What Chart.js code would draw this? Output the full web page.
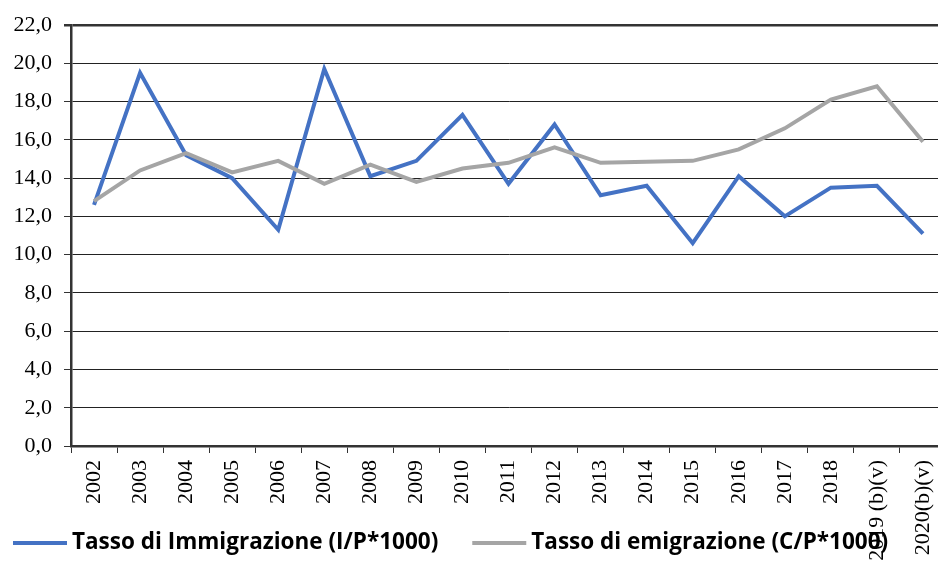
<!DOCTYPE html>
<html>
<head>
<meta charset="utf-8">
<script src="https://cdn.jsdelivr.net/npm/chart.js@4"></script>
<style>
html,body{margin:0;padding:0;background:#fff;overflow:hidden;}
#wrap{width:946px;height:562px;}
</style>
</head>
<body>
<div id="wrap"><canvas id="c" width="946" height="562"></canvas></div>
<script>
const years = ['2002','2003','2004','2005','2006','2007','2008','2009','2010','2011','2012','2013','2014','2015','2016','2017','2018','2019 (b)(v)','2020(b)(v)'];
const immigrazione = [12.6, 19.5, 15.2, 14.0, 11.3, 19.7, 14.1, 14.9, 17.3, 13.7, 16.8, 13.1, 13.6, 10.6, 14.1, 12.0, 13.5, 13.6, 11.1];
const emigrazione = [12.8, 14.4, 15.3, 14.3, 14.9, 13.7, 14.7, 13.8, 14.5, 14.8, 15.6, 14.8, 14.85, 14.9, 15.5, 16.6, 18.1, 18.8, 15.9];
const seriesNames = ['Tasso di Immigrazione (I/P*1000)', 'Tasso di emigrazione (C/P*1000)'];
const yTicks = { min: 0, max: 22, step: 2 };

const legendPlugin = {
  id: 'customLegend',
  afterDraw(chart) {
    const ctx = chart.ctx;
    ctx.save();
    ctx.font = 'bold 22.5px "Open Sans"';
    ctx.textBaseline = 'middle';
    ctx.fillStyle = '#000';
    let x = 13;
    const y = 543;
    chart.data.datasets.forEach((ds, i) => {
      ctx.strokeStyle = ds.borderColor;
      ctx.lineWidth = 4;
      ctx.beginPath();
      ctx.moveTo(x, y);
      ctx.lineTo(x + 54, y);
      ctx.stroke();
      x += 59;
      ctx.fillText(ds.label, x, y);
      x += ctx.measureText(ds.label).width + 34;
    });
    ctx.restore();
  }
};

new Chart(document.getElementById('c'), {
  type: 'line',
  data: {
    labels: years,
    datasets: [
      { label: seriesNames[0], data: immigrazione, borderColor: '#4472C4', backgroundColor: '#4472C4', borderWidth: 4, pointRadius: 0, tension: 0, order: 1 },
      { label: seriesNames[1], data: emigrazione, borderColor: '#A5A5A5', backgroundColor: '#A5A5A5', borderWidth: 4, pointRadius: 0, tension: 0, order: 0 }
    ]
  },
  options: {
    responsive: false,
    devicePixelRatio: 1,
    animation: false,
    layout: { padding: { top: 25, left: 0, right: 0, bottom: 0 } },
    plugins: { legend: { display: false }, tooltip: { enabled: false } },
    scales: {
      x: {
        offset: true,
        grid: { display: true, drawOnChartArea: false, drawTicks: true, tickLength: 7, tickColor: '#333', offset: true },
        border: { display: true, color: '#333', width: 2.5 },
        ticks: { autoSkip: false, minRotation: 90, maxRotation: 90, padding: 7, color: '#000', font: { family: 'Liberation Serif', size: 22 } },
        afterFit(scale) { scale.height = 116; scale.paddingRight = 0; scale.paddingLeft = 0; }
      },
      y: {
        min: yTicks.min,
        max: yTicks.max,
        grid: {
          color: c => (c.tick && c.tick.value === yTicks.max) ? '#333' : '#222',
          lineWidth: c => (c.tick && c.tick.value === yTicks.max) ? 2.5 : 1,
          drawTicks: true, tickLength: 7, tickColor: '#333'
        },
        border: { display: true, color: '#333', width: 2.5 },
        ticks: {
          stepSize: yTicks.step,
          padding: 12,
          color: '#000',
          font: { family: 'Liberation Serif', size: 22 },
          callback: v => v.toFixed(1).replace('.', ',')
        },
        afterFit(scale) { scale.width = 71; scale.paddingTop = 0; }
      }
    }
  },
  plugins: [legendPlugin]
});
</script>
</body>
</html>
